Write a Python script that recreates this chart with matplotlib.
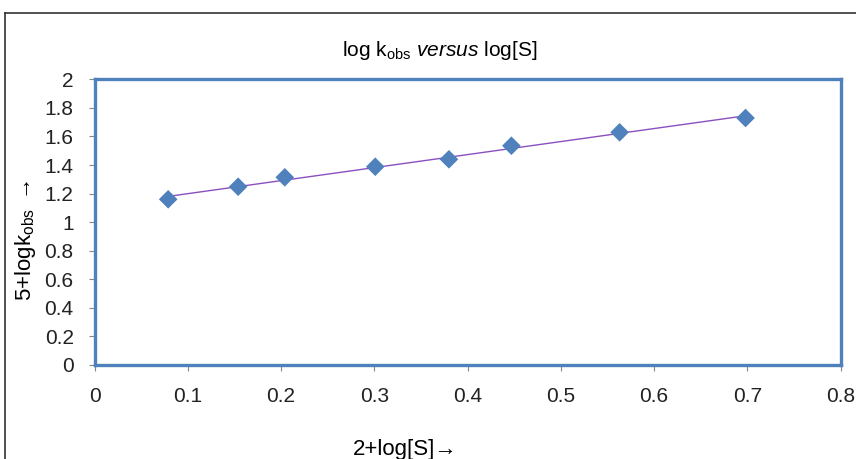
import matplotlib
matplotlib.use('Agg')
import matplotlib.pyplot as plt
from matplotlib.lines import Line2D
import numpy as np

# data
log_s = [0.079, 0.154, 0.204, 0.301, 0.380, 0.447, 0.563, 0.698]
log_k = [1.160, 1.248, 1.314, 1.388, 1.440, 1.535, 1.629, 1.729]
xticks = [0, 0.1, 0.2, 0.3, 0.4, 0.5, 0.6, 0.7, 0.8]
yticks = [0, 0.2, 0.4, 0.6, 0.8, 1, 1.2, 1.4, 1.6, 1.8, 2]

plt.rcParams['font.family'] = ['Liberation Sans', 'DejaVu Sans']
plt.rcParams['mathtext.fontset'] = 'custom'
plt.rcParams['mathtext.rm'] = 'Liberation Sans'
plt.rcParams['mathtext.it'] = 'Liberation Sans:italic'

blue = '#4F81BD'
fig = plt.figure(figsize=(8.56, 4.59), dpi=100)
ax = fig.add_axes([0.1104, 0.2048, 0.8717, 0.6224])

# outer chart frame (cut off on right and bottom)
fig.add_artist(Line2D([5/856, 5/856], [1 - 13/459, 0], color='#333333', lw=1.2))
fig.add_artist(Line2D([5/856, 1], [1 - 13/459, 1 - 13/459], color='#333333', lw=1.2))

# linear trend line
p = np.polyfit(log_s, log_k, 1)
xs = np.array([min(log_s), max(log_s)])
ax.plot(xs, np.polyval(p, xs), color='#8A4FC0', lw=1, zorder=2)
ax.scatter(log_s, log_k, marker='D', s=90, color=blue, edgecolors='none', zorder=3)

ax.set_xlim(0, 0.8)
ax.set_ylim(0, 2)
ax.set_xticks(xticks)
ax.set_xticklabels([f'{t:g}' for t in xticks])
ax.set_yticks(yticks)
ax.set_yticklabels([f'{t:g}' for t in yticks])
ax.tick_params(length=4, width=0.8, color='#868686', labelsize=15, pad=11, labelcolor='#222222')
ax.tick_params(axis='x', pad=12)
for s in ax.spines.values():
    s.set_color(blue)
    s.set_linewidth(2.4)

fig.text(0.514, 1 - 50/459, r'log k$_{\mathrm{obs}}$ $\it{versus}$ log[S]',
         ha='center', va='center', fontsize=15)
fig.text(0.473, 1 - 450/459, '2+log[S]→', ha='center', va='center', fontsize=16)
fig.text(0.030, 1 - 240/459, r'5+logk$_{\mathrm{obs}}$ $\rightarrow$', ha='center', va='center',
         rotation=90, fontsize=16)

fig.savefig('out.png', dpi=100)
